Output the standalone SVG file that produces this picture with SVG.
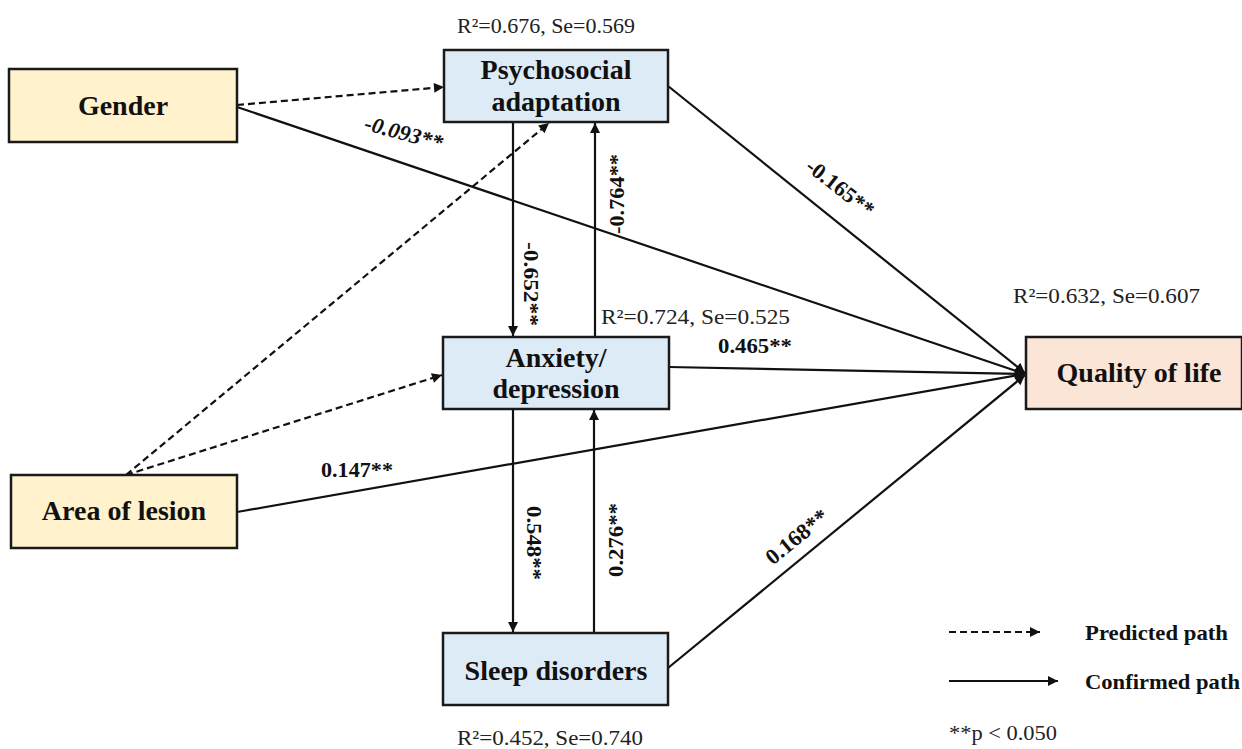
<svg xmlns="http://www.w3.org/2000/svg" width="1242" height="749" viewBox="0 0 1242 749">
<style>
.box{stroke:#1a1a1a;stroke-width:2.5}
.y{fill:#FFF2CC}
.b{fill:#DDEBF7}
.p{fill:#FBE5D6}
.nt{font-family:"Liberation Serif","Times New Roman",serif;font-weight:bold;font-size:28px;fill:#111;text-anchor:middle}
.r2{font-family:"Liberation Serif","Times New Roman",serif;font-size:22px;fill:#222}
.el{font-family:"Liberation Serif","Times New Roman",serif;font-weight:bold;font-size:22px;fill:#111}
.ln{stroke:#111;stroke-width:2.2;fill:none}
.ds{stroke-dasharray:7 4}
</style>
<defs>
<marker id="arr" viewBox="0 0 10 10" refX="10" refY="5" markerWidth="12" markerHeight="10" markerUnits="userSpaceOnUse" orient="auto">
<path d="M0,0 L10,5 L0,10 Z" fill="#111"/>
</marker>
</defs>
<rect width="1242" height="749" fill="#fff"/>

<g id="connectors">
<line class="ln ds" x1="237" y1="105" x2="444" y2="87" marker-end="url(#arr)"/>
<line class="ln" x1="237" y1="107" x2="1025" y2="374" marker-end="url(#arr)"/>
<line class="ln ds" x1="126" y1="475" x2="549" y2="123" marker-end="url(#arr)"/>
<line class="ln ds" x1="126" y1="475" x2="442" y2="375" marker-end="url(#arr)"/>
<line class="ln" x1="237" y1="512" x2="1025" y2="374" marker-end="url(#arr)"/>
<line class="ln" x1="513" y1="123" x2="513" y2="336" marker-end="url(#arr)"/>
<line class="ln" x1="595" y1="336" x2="595" y2="123" marker-end="url(#arr)"/>
<line class="ln" x1="668" y1="86" x2="1025" y2="373" marker-end="url(#arr)"/>
<line class="ln" x1="669" y1="367" x2="1025" y2="374" marker-end="url(#arr)"/>
<line class="ln" x1="513" y1="410" x2="513" y2="632" marker-end="url(#arr)"/>
<line class="ln" x1="594" y1="632" x2="594" y2="410" marker-end="url(#arr)"/>
<line class="ln" x1="668" y1="668" x2="1025" y2="375" marker-end="url(#arr)"/>
</g>

<g id="edge-labels">
<text class="el" font-style="italic" text-anchor="middle" transform="translate(402,140) rotate(15)" textLength="80" lengthAdjust="spacingAndGlyphs">-0.093**</text>
<text class="el" text-anchor="middle" transform="translate(840,188) rotate(38)" textLength="80" lengthAdjust="spacingAndGlyphs" dy="7">-0.165**</text>
<text class="el" text-anchor="middle" transform="translate(524,284) rotate(90)" textLength="84" lengthAdjust="spacingAndGlyphs">-0.652**</text>
<text class="el" text-anchor="middle" transform="translate(624,194) rotate(-90)" textLength="80" lengthAdjust="spacingAndGlyphs">-0.764**</text>
<text class="el" x="718" y="353" textLength="74" lengthAdjust="spacingAndGlyphs">0.465**</text>
<text class="el" x="321" y="477" textLength="72" lengthAdjust="spacingAndGlyphs">0.147**</text>
<text class="el" text-anchor="middle" transform="translate(527,543) rotate(90)" textLength="74" lengthAdjust="spacingAndGlyphs">0.548**</text>
<text class="el" text-anchor="middle" transform="translate(623,540) rotate(-90)" textLength="74" lengthAdjust="spacingAndGlyphs">0.276**</text>
<text class="el" text-anchor="middle" transform="translate(797,537) rotate(-39)" textLength="74" lengthAdjust="spacingAndGlyphs" dy="7">0.168**</text>
</g>

<g id="node-gender">
<rect class="box y" x="9" y="69" width="228" height="73"/>
<text class="nt" x="123" y="115">Gender</text>
</g>
<g id="node-area">
<rect class="box y" x="11" y="475" width="226" height="73"/>
<text class="nt" x="124" y="520">Area of lesion</text>
</g>
<g id="node-psych">
<rect class="box b" x="444" y="50" width="224" height="72"/>
<text class="nt" x="556" y="79">Psychosocial</text>
<text class="nt" x="556" y="111">adaptation</text>
<text class="r2" x="457" y="33" textLength="178" lengthAdjust="spacingAndGlyphs">R²=0.676, Se=0.569</text>
</g>
<g id="node-anx">
<rect class="box b" x="443" y="337" width="226" height="72"/>
<text class="nt" x="556" y="367">Anxiety/</text>
<text class="nt" x="556" y="398">depression</text>
<text class="r2" x="601" y="324" textLength="189" lengthAdjust="spacingAndGlyphs">R²=0.724, Se=0.525</text>
</g>
<g id="node-sleep">
<rect class="box b" x="443" y="633" width="225" height="72"/>
<text class="nt" x="556" y="680">Sleep disorders</text>
<text class="r2" x="457" y="745" textLength="186" lengthAdjust="spacingAndGlyphs">R²=0.452, Se=0.740</text>
</g>
<g id="node-qol">
<rect class="box p" x="1026" y="337" width="216" height="72"/>
<text class="nt" x="1139" y="382">Quality of life</text>
<text class="r2" x="1013" y="303" textLength="187" lengthAdjust="spacingAndGlyphs">R²=0.632, Se=0.607</text>
</g>

<g id="legend">
<line class="ln ds" x1="949" y1="632" x2="1040" y2="632" marker-end="url(#arr)"/>
<text class="el" x="1085" y="640" textLength="143" lengthAdjust="spacingAndGlyphs">Predicted path</text>
<line class="ln" x1="949" y1="681" x2="1058" y2="681" marker-end="url(#arr)"/>
<text class="el" x="1085" y="689" textLength="155" lengthAdjust="spacingAndGlyphs">Confirmed path</text>
<text class="r2" x="949" y="740" textLength="108" lengthAdjust="spacingAndGlyphs">**p &lt; 0.050</text>
</g>
</svg>
